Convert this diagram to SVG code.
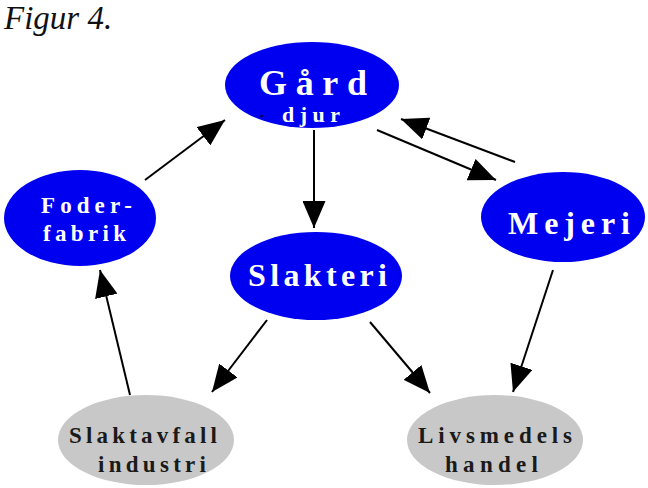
<svg xmlns="http://www.w3.org/2000/svg" width="648" height="488" viewBox="0 0 648 488">
<style>
.blue{fill:#0000f0}
.gray{fill:#c8c8c8}
.lbl{font-family:"Liberation Serif","Times New Roman",serif;font-weight:bold}
.w{fill:#ffffff}
.d{fill:#1a1a1a}
.conn line{stroke:#000;stroke-width:2;marker-end:url(#ah)}
</style>
<defs>
<marker id="ah" viewBox="0 0 27 23" refX="27" refY="11.5" markerWidth="27" markerHeight="23" markerUnits="userSpaceOnUse" orient="auto">
<path d="M0,0 L27,11.5 L0,23 z" fill="#000"/>
</marker>
</defs>
<rect width="648" height="488" fill="#fff"/>
<text x="4" y="29" font-family="Liberation Serif,serif" font-style="italic" font-size="33" fill="#111">Figur 4.</text>
<g class="conn">
<line x1="145" y1="180" x2="225" y2="120"/>
<line x1="314" y1="130" x2="314" y2="228"/>
<line x1="377" y1="130" x2="496" y2="180"/>
<line x1="515" y1="162" x2="401" y2="119"/>
<line x1="267" y1="320" x2="212" y2="392"/>
<line x1="370" y1="322" x2="430" y2="393"/>
<line x1="553" y1="270" x2="513" y2="392"/>
<line x1="130" y1="395" x2="100" y2="270"/>
</g>
<g id="gard">
<ellipse class="blue" cx="312" cy="85" rx="87" ry="43"/>
<text class="lbl w" x="259" y="95" font-size="36" textLength="108" lengthAdjust="spacing">Gård</text>
<text class="lbl w" x="282" y="122" font-size="22" textLength="58" lengthAdjust="spacing">djur</text>
<circle cx="261.5" cy="116" r="1.5" fill="#000050"/>
</g>
<g id="foder">
<ellipse class="blue" cx="80" cy="218" rx="76" ry="48"/>
<text class="lbl w" x="41" y="213" font-size="23" textLength="91" lengthAdjust="spacing">Foder-</text>
<text class="lbl w" x="43" y="241" font-size="23" textLength="83" lengthAdjust="spacing">fabrik</text>
</g>
<g id="mejeri">
<ellipse class="blue" cx="563" cy="217" rx="82" ry="45"/>
<text class="lbl w" x="508" y="234" font-size="32" textLength="122" lengthAdjust="spacing">Mejeri</text>
</g>
<g id="slakteri">
<ellipse class="blue" cx="316" cy="276" rx="86" ry="44"/>
<text class="lbl w" x="248" y="286" font-size="32" textLength="139" lengthAdjust="spacing">Slakteri</text>
</g>
<g id="slaktavfall">
<ellipse class="gray" cx="146" cy="440" rx="88" ry="45"/>
<text class="lbl d" x="69" y="443" font-size="23" textLength="148" lengthAdjust="spacing">Slaktavfall</text>
<text class="lbl d" x="98" y="472" font-size="23" textLength="108" lengthAdjust="spacing">industri</text>
</g>
<g id="livsmedels">
<ellipse class="gray" cx="495" cy="440" rx="88" ry="45"/>
<text class="lbl d" x="418" y="443" font-size="23" textLength="154" lengthAdjust="spacing">Livsmedels</text>
<text class="lbl d" x="445" y="472" font-size="23" textLength="93" lengthAdjust="spacing">handel</text>
</g>
</svg>
